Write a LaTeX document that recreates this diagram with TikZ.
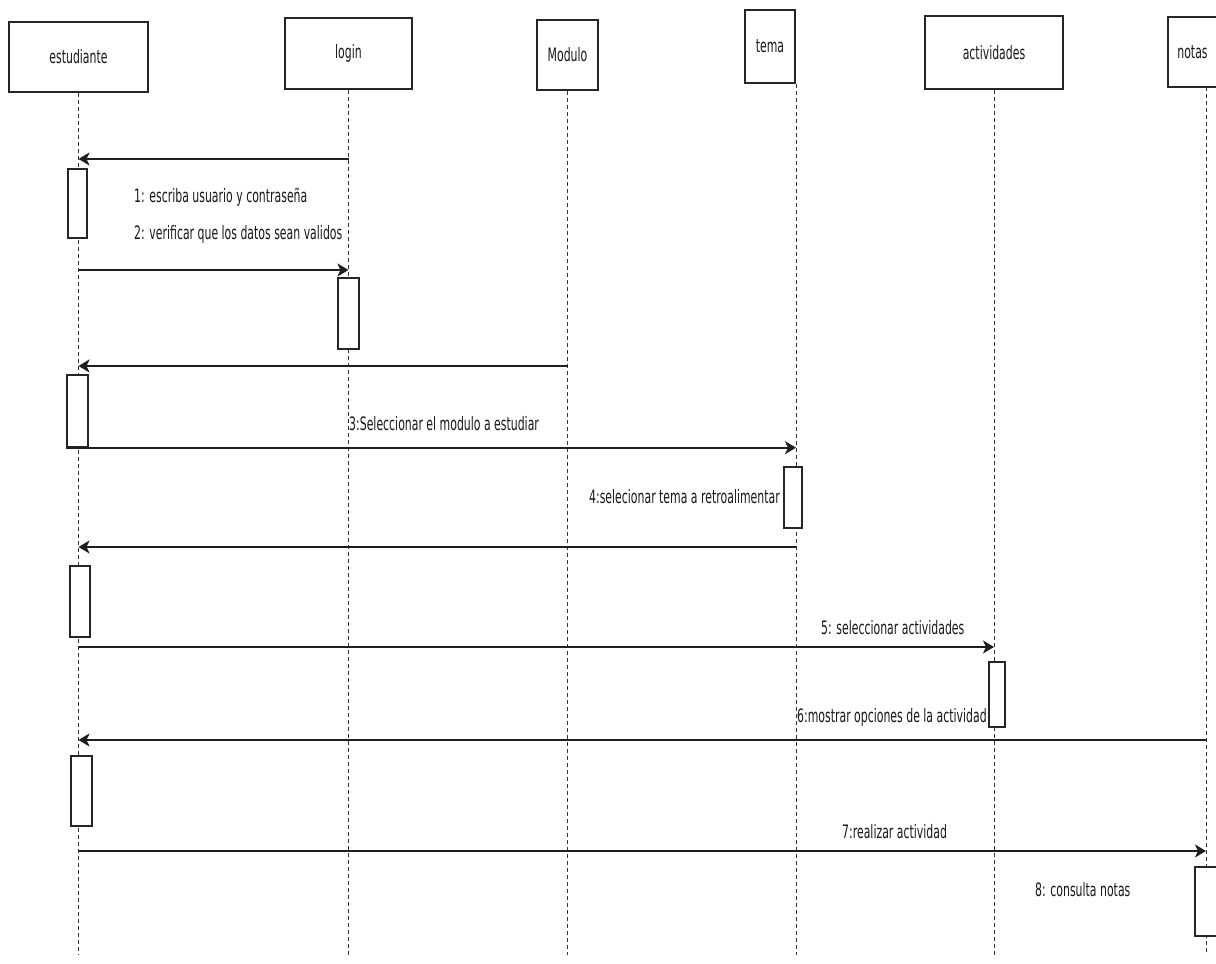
\documentclass[tikz,border=0pt]{standalone}
\usepackage{fontspec}
\setmainfont{DejaVu Sans}[FakeStretch=0.59]
\usetikzlibrary{arrows.meta}
\begin{document}
\begin{tikzpicture}[x=1pt,y=-1pt,
  every node/.style={font=\fontsize{18.5}{21}\selectfont, text=black!90, inner sep=0pt},
  actor/.style={draw=black!85, line width=2pt, fill=white, rectangle},
  lifeline/.style={draw=black!80, line width=1pt, dash pattern=on 4pt off 3pt},
  actbox/.style={draw=black!85, line width=1.4pt, fill=white, rectangle},
  msg/.style={draw=black!88, line width=2pt, -{Stealth[length=11pt,width=13pt,inset=3pt]}},
  lblw/.style={anchor=west},
  lble/.style={anchor=east},
]
\useasboundingbox (0,0) rectangle (1216,964);
\clip (0,0) rectangle (1216,964);
\fill[white] (0,0) rectangle (1216,964);

% participants
\node[actor, minimum width=139pt, minimum height=70pt] (est)    at (78.5,57)   {estudiante};
\node[actor, minimum width=127pt, minimum height=71pt] (login)  at (348.5,53.5) {login};
\node[actor, minimum width=61pt,  minimum height=70pt] (modulo) at (567.5,55)  {Modulo};
\node[actor, minimum width=50pt,  minimum height=73pt] (tema)   at (770,46.5)  {tema};
\node[actor, minimum width=138pt, minimum height=73pt] (act)    at (994,52.5)  {actividades};
\node[actor, minimum width=49pt,  minimum height=70pt] (notas)  at (1192.5,52) {notas};

% lifeline tops
\coordinate (Lest)    at (est.south);
\coordinate (Llogin)  at (login.south);
\coordinate (Lmodulo) at (modulo.south);
\coordinate (Ltema)   at (tema.south east);
\coordinate (Lact)    at (act.south);
\coordinate (Lnotas)  at (1206,87);

\foreach \l in {Lest,Llogin,Lmodulo,Ltema,Lact,Lnotas}
  \draw[lifeline] (\l) -- (\l |- 0,955);

% activation bars
\node[actbox, minimum width=19pt, minimum height=69pt] (a1) at (77.5,203.5) {};
\node[actbox, minimum width=21pt, minimum height=71pt] (a2) at (348.5,313.5) {};
\node[actbox, minimum width=21pt, minimum height=72pt] (a3) at (77.5,411) {};
\node[actbox, minimum width=18pt, minimum height=61pt] (a4) at (793,497.5) {};
\node[actbox, minimum width=20pt, minimum height=71pt] (a5) at (80,601.5) {};
\node[actbox, minimum width=16pt, minimum height=65pt] (a6) at (997,694.5) {};
\node[actbox, minimum width=21pt, minimum height=70pt] (a7) at (81.5,791) {};
\node[actbox, minimum width=23pt, minimum height=69pt] (a8) at (1206.5,901.5) {};

% messages
\draw[msg] (Llogin |- 0,159) -- (Lest |- 0,159);
\draw[msg] (Lest |- 0,270) -- (Llogin |- 0,270);
\draw[msg] (Lmodulo |- 0,366) -- (Lest |- 0,366);
\draw[msg] (a3.south west) -- (Ltema |- a3.south);
\draw[msg] (Ltema |- 0,547) -- (Lest |- 0,547);
\draw[msg] (Lest |- 0,647) -- (Lact |- 0,647);
\draw[msg] (Lnotas |- 0,740) -- (Lest |- 0,740);
\draw[msg] (Lest |- 0,851) -- (Lnotas |- 0,851);

% message labels
\node[lblw] (t1) at (134,197) {1: escriba usuario y contraseña};
\node[lblw] (t2) at (134,234) {2: verificar que los datos sean validos};
\node[lblw] (t3) at (349,424) {3:Seleccionar el modulo a estudiar};
\node[lble] (t4) at (780,497) {4:selecionar tema a retroalimentar};
\node[lblw] (t5) at (821,628) {5: seleccionar actividades};
\node[lblw] (t6) at (797,717) {6:mostrar opciones de la actividad};
\node[lblw] (t7) at (842,832) {7:realizar actividad};
\node[lblw] (t8) at (1035,890) {8: consulta notas};
\end{tikzpicture}
\end{document}
